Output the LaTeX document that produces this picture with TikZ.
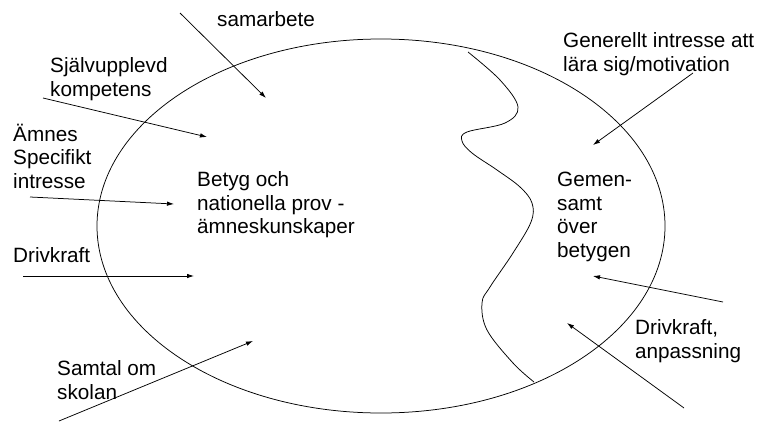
\documentclass[tikz,border=0pt]{standalone}
\usepackage{fontspec}
\setmainfont{Liberation Sans}
\usetikzlibrary{arrows.meta}

\begin{document}
\begin{tikzpicture}[
  x=1pt, y=-1pt,
  >={Latex[length=7pt,width=4.5pt]},
  every node/.style={font=\fontsize{20.7}{23.5}\selectfont, inner sep=0pt, anchor=west, align=left},
  infl/.style={->, line width=0.75pt},
  border/.style={line width=0.75pt},
]
\useasboundingbox (0,0) rectangle (765,423);

% --- Field and divider -----------------------------------------
\draw[border] (381,226) ellipse [x radius=284, y radius=187];
\draw[border] plot[smooth, tension=0.6] coordinates {
  (468,52) (500,80) (518,107) (505,123) (467,132) (462,141) (472,153)
  (497,170) (520,187) (532,203) (531,222) (513,253) (490,287) (482,303)
  (487,330) (513,363) (534,382)};

% --- Labels ----------------------------------------------------
\node (samarbete) at (217,19) {samarbete};
\node (sjalv)     at (50,79)  {Självupplevd\\kompetens};
\node (amnes)     at (13,156) {Ämnes\\Specifikt\\intresse};
\node (betyg)     at (197,205) {Betyg och\\nationella prov -\\ämneskunskaper};
\node (drivL)     at (13,255) {Drivkraft};
\node (samtal)    at (57,380) {Samtal om\\skolan};
\node (generellt) at (563,54) {Generellt intresse att\\lära sig/motivation};
\node (gemen)     at (557,217) {Gemen-\\samt\\över\\betygen};
\node (drivR)     at (635,341) {Drivkraft,\\anpassning};

% --- Arrow end points ------------------------------------------
\coordinate (aS) at (180,13);  \coordinate (aE) at (266,98);
\coordinate (bS) at (43,98);   \coordinate (bE) at (207,137);
\coordinate (cS) at (30,197);  \coordinate (cE) at (174,204);
\coordinate (dS) at (23,276);  \coordinate (dE) at (194,276);
\coordinate (eS) at (59,421);  \coordinate (eE) at (253,341);
\coordinate (fS) at (693,73);  \coordinate (fE) at (593,145);
\coordinate (gS) at (723,302); \coordinate (gE) at (593,276);
\coordinate (hS) at (684,408); \coordinate (hE) at (567,323);

% --- Influences ------------------------------------------------
\draw[infl] (aS) -- (aE);
\draw[infl] (bS) -- (bE);
\draw[infl] (cS) -- (cE);
\draw[infl] (dS) -- (dE);
\draw[infl] (eS) -- (eE);
\draw[infl] (fS) -- (fE);
\draw[infl] (gS) -- (gE);
\draw[infl] (hS) -- (hE);

\end{tikzpicture}
\end{document}
